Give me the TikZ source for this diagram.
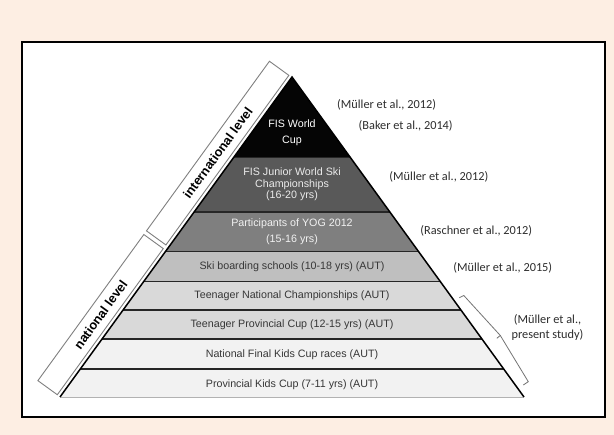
\documentclass[tikz,border=0pt]{standalone}
\usepackage{fontspec}
\setmainfont{Liberation Sans}
\newfontfamily\citefont{Carlito}
\definecolor{bgbeige}{RGB}{253,238,227}
\definecolor{lay1}{RGB}{5,5,5}
\definecolor{lay2}{RGB}{89,89,89}
\definecolor{lay3}{RGB}{127,127,127}
\definecolor{lay4}{RGB}{191,191,191}
\definecolor{lay5}{RGB}{217,217,217}
\definecolor{lay7}{RGB}{242,242,242}
\definecolor{darktxt}{RGB}{55,55,55}
\definecolor{citetxt}{RGB}{45,45,45}
\begin{document}
\begin{tikzpicture}[x=1pt,y=-1pt,
  sepline/.style={draw=black!85, line width=1.4pt},
  edgeline/.style={draw=black, line width=1.5pt},
  bannerbox/.style={draw=black!50, line width=0.9pt, fill=white},
  bannertext/.style={font=\fontsize{12.8}{14}\selectfont\bfseries, text=black, inner sep=0pt, rotate=54.07},
  laytext/.style={font=\fontsize{10.7}{12}\selectfont, text=darktxt, align=center, inner sep=0pt},
  laytextw/.style={laytext, text=white},
  citation/.style={font=\citefont\fontsize{12.3}{15}\selectfont, text=citetxt, align=center, inner sep=0pt},
  bracketline/.style={draw=black!55, line width=0.8pt}
]
\useasboundingbox (0,0) rectangle (614,435);
\fill[bgbeige] (0,0) rectangle (614,435);
\draw[line width=1.5pt, fill=white] (22,42) rectangle (605,417);

\coordinate (apex) at (292,77);
\coordinate (bl) at (60,397);
\coordinate (br) at (524,397);

% layers
\begin{scope}
\clip (apex) -- (bl) -- (br) -- cycle;
\fill[lay1] (0,70) rectangle (614,157.5);
\fill[lay2] (0,157.5) rectangle (614,212);
\fill[lay3] (0,212) rectangle (614,251.5);
\fill[lay4] (0,251.5) rectangle (614,281.5);
\fill[lay5] (0,281.5) rectangle (614,339);
\fill[lay7] (0,339) rectangle (614,400);
\foreach \yy in {157.5,212,251.5,281.5,310,339,369}
  \draw[sepline] (0,\yy) -- (614,\yy);
\end{scope}
\draw[draw=black!30, line width=0.8pt] (bl) -- (br);
\draw[edgeline] (bl) -- (apex) -- (br);

% banners
\draw[bannerbox] (288.87,75.35) -- (269.44,61.26) -- (146.48,230.87) -- (165.91,244.96) -- cycle;
\draw[bannerbox] (163.27,248.60) -- (143.84,234.52) -- (37.89,380.65) -- (57.32,394.74) -- cycle;
\node[bannertext] (intl) at (217.8,152.9) {international level};
\node[bannertext] (natl) at (100.6,314.6) {national level};

% layer texts
\node[laytextw, font=\fontsize{10.7}{15.7}\selectfont] (t1) at (292,133) {FIS World\\Cup};
\node[laytextw, text=black!8, font=\fontsize{10.7}{11.4}\selectfont] (t2) at (292,184.5) {FIS Junior World Ski\\Championships\\(16-20 yrs)};
\node[laytextw, text=black!5, font=\fontsize{10.7}{16}\selectfont] (t3) at (292,232) {Participants of YOG 2012\\(15-16 yrs)};
\node[laytext] (t4) at (292,266.7) {Ski boarding schools (10-18 yrs) (AUT)};
\node[laytext] (t5) at (292,295.7) {Teenager National Championships (AUT)};
\node[laytext] (t6) at (292,325) {Teenager Provincial Cup (12-15 yrs) (AUT)};
\node[laytext] (t7) at (292,354.3) {National Final Kids Cup races (AUT)};
\node[laytext] (t8) at (292,384.3) {Provincial Kids Cup (7-11 yrs) (AUT)};

% citations
\node[citation] (c1) at (386.6,104.5) {(Müller et al., 2012)};
\node[citation] (c2) at (405.7,126) {(Baker et al., 2014)};
\node[citation] (c3) at (438.9,177) {(Müller et al., 2012)};
\node[citation] (c4) at (476.3,231) {(Raschner et al., 2012)};
\node[citation] (c5) at (502.8,268) {(Müller et al., 2015)};
\node[citation] (c6) at (547.5,327) {(Müller et al.,\\present study)};

% bracket
\coordinate (bt) at (459.3,297.7);
\coordinate (btc) at (463.8,295.5);
\coordinate (bm) at (500.3,335.5);
\coordinate (bmt) at (496.8,338.3);
\coordinate (bbc) at (528.3,381.7);
\coordinate (bb) at (523.3,385);
\draw[bracketline] (bt) -- (btc) -- (bm) -- (bbc) -- (bb);
\draw[bracketline] (bm) -- (bmt);
\end{tikzpicture}
\end{document}
